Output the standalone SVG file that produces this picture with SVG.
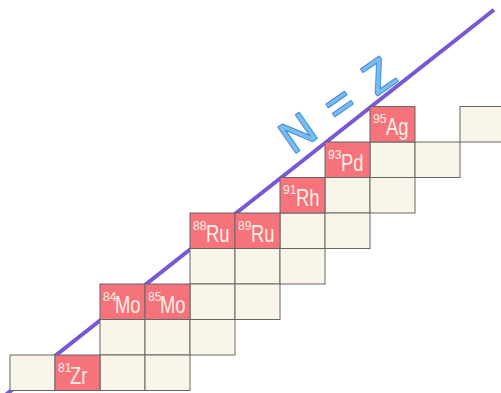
<svg xmlns="http://www.w3.org/2000/svg" width="501" height="393" viewBox="0 0 501 393">
<style>
.c{fill:#faf5e9;stroke:#666;stroke-width:1}
.r{fill:#f7737b;stroke:#666;stroke-width:1}
.sup{font-family:"Liberation Sans",Arial,sans-serif;font-size:13.5px;fill:#fdefe6}
.sym{font-family:"Liberation Sans",Arial,sans-serif;font-size:23px;fill:#fdefe6}
.nz{font-family:"Liberation Sans",Arial,sans-serif;font-size:45px;fill:#78bdf0;stroke:#3d8bd6;stroke-width:2;stroke-linejoin:round;paint-order:stroke;letter-spacing:4.5px}
</style>
<rect width="501" height="393" fill="#ffffff"/>
<g id="connectors">
<line x1="5" y1="395.4" x2="494" y2="9.7" stroke="#7858d4" stroke-width="4"/>
</g>
<g id="empty-cells">
<rect id="e0" class="c" x="460" y="106.5" width="45" height="35.5"/>
<rect id="e1a" class="c" x="370" y="142" width="45" height="35.5"/>
<rect id="e1b" class="c" x="415" y="142" width="45" height="35.5"/>
<rect id="e2a" class="c" x="325" y="177.5" width="45" height="35.5"/>
<rect id="e2b" class="c" x="370" y="177.5" width="45" height="35.5"/>
<rect id="e3a" class="c" x="280" y="213" width="45" height="35.5"/>
<rect id="e3b" class="c" x="325" y="213" width="45" height="35.5"/>
<rect id="e4a" class="c" x="190" y="248.5" width="45" height="35.5"/>
<rect id="e4b" class="c" x="235" y="248.5" width="45" height="35.5"/>
<rect id="e4c" class="c" x="280" y="248.5" width="45" height="35.5"/>
<rect id="e5a" class="c" x="190" y="284" width="45" height="35.5"/>
<rect id="e5b" class="c" x="235" y="284" width="45" height="35.5"/>
<rect id="e6a" class="c" x="100" y="319.5" width="45" height="35.5"/>
<rect id="e6b" class="c" x="145" y="319.5" width="45" height="35.5"/>
<rect id="e6c" class="c" x="190" y="319.5" width="45" height="35.5"/>
<rect id="e7a" class="c" x="10" y="355" width="45" height="35.5"/>
<rect id="e7b" class="c" x="100" y="355" width="45" height="35.5"/>
<rect id="e7c" class="c" x="145" y="355" width="45" height="35.5"/>
</g>
<g id="Ag95">
<rect class="r" x="370" y="106.5" width="45" height="35.5"/>
<text class="sup" transform="translate(373,123) scale(0.9,1)">95</text>
<text class="sym" transform="translate(386,135) scale(0.8,1)">Ag</text>
</g>
<g id="Pd93">
<rect class="r" x="325" y="142" width="45" height="35.5"/>
<text class="sup" transform="translate(328,158.5) scale(0.9,1)">93</text>
<text class="sym" transform="translate(341,170.5) scale(0.8,1)">Pd</text>
</g>
<g id="Rh91">
<rect class="r" x="280" y="177.5" width="45" height="35.5"/>
<text class="sup" transform="translate(283,194) scale(0.9,1)">91</text>
<text class="sym" transform="translate(296,206) scale(0.8,1)">Rh</text>
</g>
<g id="Ru88">
<rect class="r" x="190" y="213" width="45" height="35.5"/>
<text class="sup" transform="translate(193,229.5) scale(0.9,1)">88</text>
<text class="sym" transform="translate(206,241.5) scale(0.8,1)">Ru</text>
</g>
<g id="Ru89">
<rect class="r" x="235" y="213" width="45" height="35.5"/>
<text class="sup" transform="translate(238,229.5) scale(0.9,1)">89</text>
<text class="sym" transform="translate(251,241.5) scale(0.8,1)">Ru</text>
</g>
<g id="Mo84">
<rect class="r" x="100" y="284" width="45" height="35.5"/>
<text class="sup" transform="translate(103,300.5) scale(0.9,1)">84</text>
<text class="sym" transform="translate(115,312.5) scale(0.8,1)">Mo</text>
</g>
<g id="Mo85">
<rect class="r" x="145" y="284" width="45" height="35.5"/>
<text class="sup" transform="translate(148,300.5) scale(0.9,1)">85</text>
<text class="sym" transform="translate(160,312.5) scale(0.8,1)">Mo</text>
</g>
<g id="Zr81">
<rect class="r" x="55" y="355" width="45" height="35.5"/>
<text class="sup" transform="translate(58,371.5) scale(0.9,1)">81</text>
<text class="sym" transform="translate(70,383.5) scale(0.8,1)">Zr</text>
</g>
<g id="label-NZ">
<text class="nz" transform="translate(293,154.7) rotate(-35)" x="0" y="0" xml:space="preserve">N = Z</text>
</g>
</svg>
